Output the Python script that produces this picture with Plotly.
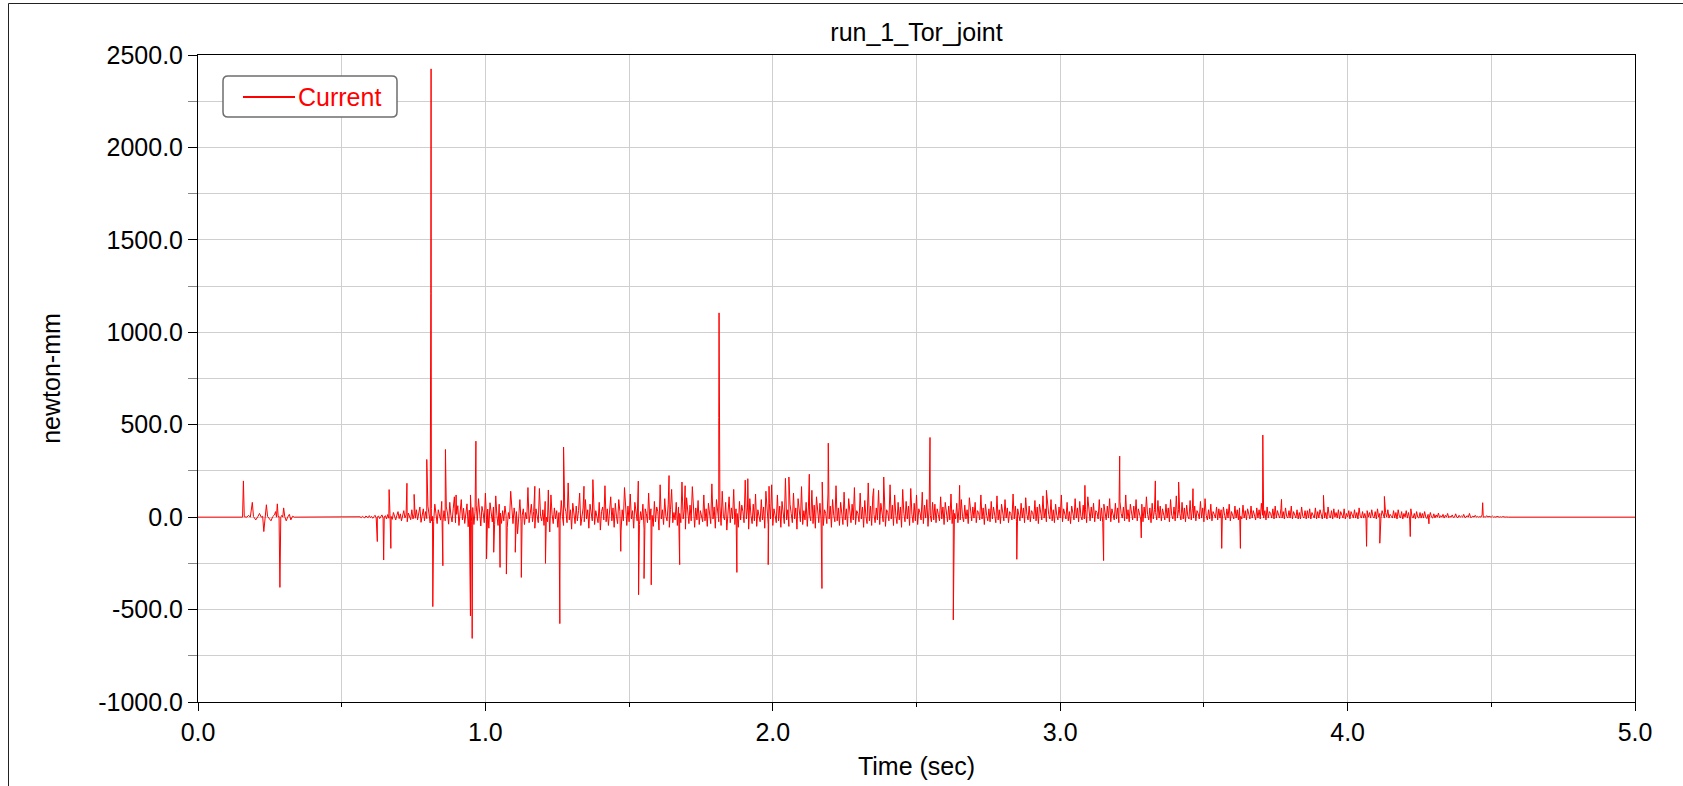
import numpy as np
import plotly.graph_objects as go

# ---------------- text ----------------
chart_title = "run_1_Tor_joint"
x_title = "Time (sec)"
y_title = "newton-mm"
series_name = "Current"

x_tick_vals = [0, 1, 2, 3, 4, 5]
y_tick_vals = [-1000, -500, 0, 500, 1000, 1500, 2000, 2500]

# ---------------- data ----------------
# flat (zero) parts of the record
quiet_t = [0.0, 0.150, 0.340, 0.555, 4.560, 5.0]
quiet_v = [0, 0, 0, 0, 0, 0]

# first short burst
early_t = [0.155, 0.158, 0.161, 0.170, 0.176, 0.182, 0.189, 0.193, 0.201, 0.208,
           0.214, 0.220, 0.225, 0.229, 0.233, 0.238, 0.242, 0.248, 0.254, 0.260,
           0.266, 0.270, 0.273, 0.276, 0.279, 0.282, 0.285, 0.288, 0.292, 0.295,
           0.298, 0.302, 0.307, 0.312, 0.318, 0.323, 0.329, 0.335]
early_v = [0, 196, 2, 0, 10, 0, 80, 3, -15, 2,
           20, 0, 5, -78, 0, 67, 4, -10, -20, 3,
           12, 30, 0, 72, 2, 5, -380, 0, 10, 0,
           50, 2, -20, 0, 15, -15, 5, 0]

# dense noise band, sampled every 4 ms from 0.56 s
noise_t0 = 0.560
noise_dt = 0.004
noise_v = [
    # 0.56
    0, 2, -3, 5, 0, -4, 6, 1, -3, 8, -2, 4, -6, 2, 10, -4, 0, 7, -8, 3, 12, -5, 2, 8, -10,
    # 0.66
    14, -6, 20, 4, -12, 25, 0, -15, 10, 30, -8, 18, -20, 6, 35, -4, 12, -25, 22, 8, -14, 40, -10, 16, -6,
    # 0.76
    40, -15, 22, 55, -28, 12, 45, -20, 30, -8, 60, 15, -32, 48, 4, -24, 70, 18, -35, 40, 8, -16, 85, -28, 35,
    # 0.86
    -20, 55, 22, -38, 80, 8, -26, 45, 110, -30, 15, 62, -45, 30, 95, -15, 48, -34, 12, 72, -52, 38, 120, -22, 52,
    # 0.96
    -40, 30, 65, -18, 100, 4, -48, 58, 26, -30, 130, -15, 44, -60, 78, 15, -26, 55, -38, 115, 8, -45, 70, 22, -34,
    # 1.06
    35, -20, 60, 10, -55, 25, -10, 140, 15, -35, 50, -5, 30, -90, 20, 95, -25, 10, 45, -40, 25, -10, 160, -30, 15,
    # 1.16
    70, -25, 30, -60, 45, 10, -30, 155, 5, -20, 40, -45, 85, 0, -25, 55, -80, 120, 15, -35, 50, -10, 35, -55, 25,
    # 1.26
    -20, 90, 5, -45, 55, 30, -30, 185, -15, 40, -65, 75, 20, -35, 60, -20, 35, 130, -45, 10, 50, -25, 95, -10, 40,
    # 1.36
    -60, 70, 20, -20, 145, -40, 35, 10, -30, 80, -70, 30, 55, -15, 170, -25, 45, -45, 15, 110, -20, 50, -55, 75, 5,
    # 1.46
    -35, 95, 30, -75, 40, -20, 160, 10, -45, 60, -25, 125, -10, 35, -60, 80, 25, -20, 195, -40, 30, -15, 70, -65, 45,
    # 1.56
    20, -30, 130, -15, 45, 10, -50, 85, -25, 55, 30, -70, 175, -10, 40, -40, 100, 5, -20, 70, -55, 40, 150, -30, 25,
    # 1.66
    -15, 80, -45, 55, 20, -30, 190, -10, 40, -65, 105, 10, -35, 65, -20, 165, 30, -55, 50, -15, 90, -40, 35, 10, -25,
    # 1.76
    120, -20, 45, -50, 75, 15, -35, 180, -10, 55, -60, 95, 25, -25, 60, -45, 140, 5, -15, 80, -70, 35, 110, -30, 50,
    # 1.86
    -10, 150, -40, 45, 20, -55, 85, -15, 65, 30, -30, 200, -10, 50, -65, 100, 10, -35, 70, -20, 125, -50, 40, 15, -25,
    # 1.96
    95, -15, 55, -60, 140, 20, -40, 75, -10, 175, -45, 45, 10, -30, 120, -20, 60, -55, 85, 5, -35, 210, -15, 40, -50,
    # 2.06
    70, 20, -30, 130, -10, 50, -65, 100, 30, -25, 165, -40, 35, -15, 80, -50, 55, 10, -20, 145, -35, 65, -60, 110, 15,
    # 2.16
    -30, 75, -15, 190, -45, 40, 20, -35, 125, -10, 60, -55, 95, 10, -25, 170, -20, 50, -45, 80, 25, -40, 135, -15, 45,
    # 2.26
    -50, 100, 10, -30, 70, -15, 160, -40, 35, 20, -25, 130, -10, 55, -55, 90, 5, -35, 185, -20, 60, -45, 115, 15, -30,
    # 2.36
    50, -15, 145, -40, 75, 10, -25, 110, -50, 40, 25, -20, 175, -10, 65, -45, 120, 10, -35, 80, -15, 55, -55, 150, 20,
    # 2.46
    -25, 85, -10, 60, -45, 155, 15, -30, 75, -20, 120, -40, 45, 25, -15, 135, -35, 65, -5, 95, -50, 50, 10, -25, 80,
    # 2.56
    -15, 70, -30, 45, 15, -20, 110, -10, 55, -40, 80, 10, -25, 60, -15, 125, -35, 40, 20, -10, 75, -30, 50, -15, 95,
    # 2.66
    5, -25, 65, -10, 40, -35, 105, 15, -20, 55, -5, 80, -30, 35, 25, -15, 120, -10, 50, -40, 70, 10, -20, 45, -25,
    # 2.76
    85, -10, 55, 20, -30, 115, -15, 40, -35, 70, 5, -20, 95, -5, 50, -30, 30, 20, -15, 125, -10, 60, -25, 45, 10,
    # 2.86
    -20, 75, -5, 50, -30, 105, 15, -15, 60, -25, 35, 25, -10, 90, -20, 55, -35, 70, 10, -15, 115, -5, 45, -25, 65,
    # 2.96
    15, -10, 95, -20, 40, -30, 70, 10, -15, 55, -5, 120, -25, 45, 20, -10, 80, -20, 30, -35, 60, 15, -15, 100, -5,
    # 3.06
    50, -25, 85, 5, -15, 65, -10, 40, -30, 110, 20, -20, 55, -5, 75, -25, 35, 25, -10, 95, -20, 50, -30, 70, 10,
    # 3.16
    -15, 60, -5, 100, -25, 45, 15, -15, 75, -10, 50, -30, 85, 20, -5, 55, -20, 120, -10, 40, -25, 70, 10, -15, 60,
    # 3.26
    -5, 95, -20, 45, 20, -10, 70, -25, 55, -5, 110, 15, -15, 50, -30, 75, -10, 40, 25, -15, 90, -5, 60, -20, 45,
    # 3.36
    15, -15, 70, -5, 50, -25, 95, 10, -10, 55, -20, 115, -5, 40, 20, -15, 80, -10, 50, -25, 65, 5, -10, 90, -15,
    # 3.46
    45, -5, 60, -20, 35, 20, -10, 85, -5, 50, -25, 100, 10, -15, 40, -10, 70, -20, 30, 15, -5, 55, -15, 45, -5,
    # 3.56
    40, -10, 55, 10, -15, 45, -5, 70, -20, 30, 15, -10, 60, -5, 40, -15, 50, 5, -10, 65, -5, 35, -15, 45, 5,
    # 3.66
    -10, 60, -5, 35, 15, -15, 50, -5, 40, -10, 75, 10, -5, 35, -15, 55, -5, 30, 20, -5, 45, -10, 60, -5, 35,
    # 3.76
    10, -5, 45, -5, 30, -10, 50, 5, -5, 35, -5, 60, -10, 30, 10, -5, 40, -10, 25, -10, 55, 5, -5, 35, -10,
    # 3.86
    35, -5, 45, -10, 25, 10, -5, 50, -10, 30, -5, 40, 15, -10, 45, -5, 25, -10, 55, 5, -5, 35, -10, 45, 0,
    # 3.96
    25, -5, 40, -10, 30, 5, -5, 45, -10, 20, 0, 35, -10, 30, 10, -5, 40, -5, 25, -10, 50, 5, -5, 30, -5,
    # 4.06
    20, -10, 35, 0, 25, -5, 40, 5, -5, 30, -10, 45, 0, 20, -5, 35, 10, -5, 25, 0, 40, -5, 15, 5, -5,
    # 4.16
    35, -5, 25, -10, 40, 5, -5, 30, -10, 20, 0, 35, -5, 25, -10, 45, 5, -5, 20, -10, 30, 0, -5, 25, -5,
    # 4.26
    20, -5, 30, 0, -8, 15, -3, 25, 0, -5, 18, -4, 12, 0, 22, -3, 8, 0, 15, -5, 10, 0, 20, -3, 5,
    # 4.36
    0, 12, -2, 0, 18, 0, -3, 10, 0, 6, 0, 15, -2, 0, 8, 0, 20, -2, 0, 6, 0, 10, 0, 4, 0,
    # 4.46
    3, 0, 12, 0, 2, 0, 8, 0, 5, 0, 0, 6, 0, 2, 0, 4, 0, 0, 2, 0, 3, 0, 0, 1, 0,
]

# isolated large spikes
spike_t = [0.624, 0.646, 0.665, 0.671, 0.727, 0.752, 0.796, 0.8100, 0.8110, 0.8120,
           0.817, 0.852, 0.861, 0.898, 0.948, 0.954, 0.967, 1.004, 1.029, 1.051,
           1.073, 1.104, 1.125, 1.172, 1.209, 1.219, 1.259, 1.272, 1.343, 1.374,
           1.471, 1.533, 1.552, 1.577, 1.639, 1.676, 1.695, 1.8120, 1.8130, 1.875,
           1.913, 1.984, 1.987, 2.056, 2.127, 2.171, 2.193, 2.351, 2.386, 2.547,
           2.628, 2.650, 2.849, 2.952, 3.086, 3.151, 3.207, 3.282, 3.331, 3.412,
           3.462, 3.562, 3.627, 3.705, 3.770, 3.916, 4.066, 4.112, 4.128, 4.218,
           4.283, 4.470]
spike_v = [-132, -232, 149, -169, 183, 123, 312, 1210, 2425, -20,
           -484, -263, 366, 120, -534, -656, 411, -226, -190, -272,
           -308, -190, -326, 167, -250, 147, -576, 379, 167, 203,
           -185, -420, -332, -366, 225, -257, 170, 540, 1105, -299,
           208, -257, 167, 217, 232, -386, 400, 154, 217, 431,
           -556, 172, -228, 145, 172, -235, 330, -112, 196, 190,
           154, -169, -169, 444, 96, 118, -158, -141, 112, -105,
           -36, 78]

# ---------------- assemble the record ----------------
noise_t = noise_t0 + noise_dt * np.arange(len(noise_v))
t_all = np.concatenate([quiet_t, early_t, noise_t, spike_t])
v_all = np.concatenate([quiet_v, early_v, noise_v, spike_v])
order = np.argsort(t_all, kind="stable")
t_all = t_all[order]
v_all = v_all[order]

FONT = "Liberation Sans, Arial, sans-serif"
W, H = 1683, 786
ML, MR, MT, MB = 198, 48, 55, 84
PW, PH = W - ML - MR, H - MT - MB


def px_x(p):
    return (p - ML) / PW


def px_y(p):
    return (H - MB - p) / PH


fig = go.Figure()
fig.add_trace(go.Scatter(
    x=t_all, y=v_all, mode="lines", name=series_name,
    line=dict(color="#ff0000", width=1), showlegend=False,
))

# legend drawn as a rounded box (matches the reference look)
lx0, lx1 = px_x(223), px_x(397)
ly1, ly0 = px_y(76), px_y(117)
rx, ry = 5 / PW, 5 / PH
legend_path = (
    f"M {lx0+rx},{ly1} L {lx1-rx},{ly1} Q {lx1},{ly1} {lx1},{ly1-ry} "
    f"L {lx1},{ly0+ry} Q {lx1},{ly0} {lx1-rx},{ly0} "
    f"L {lx0+rx},{ly0} Q {lx0},{ly0} {lx0},{ly0+ry} "
    f"L {lx0},{ly1-ry} Q {lx0},{ly1} {lx0+rx},{ly1} Z"
)
shapes = [
    dict(type="path", path=legend_path, xref="paper", yref="paper",
         line=dict(color="#6e6e6e", width=1.5), fillcolor="white", layer="above"),
    dict(type="line", xref="paper", yref="paper",
         x0=px_x(243), x1=px_x(295), y0=px_y(97), y1=px_y(97),
         line=dict(color="#ff0000", width=2), layer="above"),
    # outer frame of the chart window
    dict(type="rect", xref="paper", yref="paper",
         x0=px_x(8.5), x1=px_x(1720), y0=px_y(3.5), y1=px_y(830),
         line=dict(color="#222222", width=1), fillcolor="rgba(0,0,0,0)", layer="above"),
]

annotations = [
    dict(text=series_name, xref="paper", yref="paper", x=px_x(296), y=px_y(97),
         xanchor="left", yanchor="middle", showarrow=False,
         font=dict(family=FONT, size=25, color="#ff0000")),
]

grid_col = "#cfcfcf"
fig.update_layout(
    width=W, height=H,
    margin=dict(l=ML, r=MR, t=MT, b=MB, autoexpand=False),
    paper_bgcolor="white", plot_bgcolor="white",
    font=dict(family=FONT, color="black", size=25),
    title=dict(text=chart_title, x=0.5, xref="paper", xanchor="center",
               y=1 - 32 / H, yref="container", yanchor="middle",
               font=dict(family=FONT, size=25, color="black")),
    shapes=shapes, annotations=annotations,
    xaxis=dict(
        range=[0, 5], tickvals=x_tick_vals, ticktext=[f"{v:.1f}" for v in x_tick_vals],
        showgrid=True, gridcolor=grid_col, gridwidth=1, zeroline=False,
        showline=True, linecolor="black", linewidth=1, mirror=True,
        ticks="outside", ticklen=8, tickcolor="black", tickwidth=1,
        tickfont=dict(family=FONT, size=25, color="black"),
        minor=dict(dtick=0.5, showgrid=True, gridcolor=grid_col, ticks="outside",
                   ticklen=4, tickcolor="black"),
        title=dict(text=x_title, standoff=12, font=dict(family=FONT, size=25, color="black")),
        automargin=False,
    ),
    yaxis=dict(
        range=[-1000, 2500], tickvals=y_tick_vals, ticktext=[f"{v:.1f}" for v in y_tick_vals],
        showgrid=True, gridcolor=grid_col, gridwidth=1, zeroline=False,
        showline=True, linecolor="black", linewidth=1, mirror=True,
        ticks="outside", ticklen=9, tickcolor="black", tickwidth=1,
        tickfont=dict(family=FONT, size=25, color="black"),
        minor=dict(dtick=250, showgrid=True, gridcolor=grid_col, ticks="outside",
                   ticklen=9, tickcolor="#888888"),
        title=dict(text=y_title, standoff=30, font=dict(family=FONT, size=25, color="black")),
        automargin=False,
    ),
)

fig.write_html("out.html", config={"displayModeBar": False},
               post_script="document.body.style.margin='0';")
